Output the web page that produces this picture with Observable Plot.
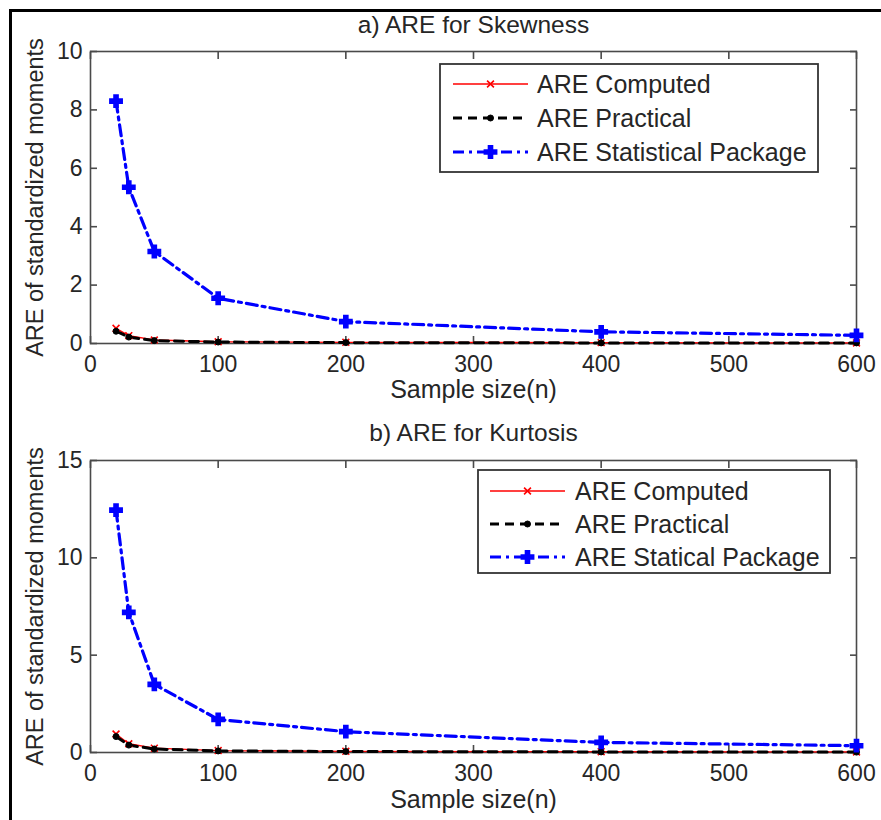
<!DOCTYPE html>
<html><head><meta charset="utf-8">
<script src="https://cdn.jsdelivr.net/npm/d3@7"></script>
<script src="https://cdn.jsdelivr.net/npm/@observablehq/plot@0.6"></script>
<style>
body{margin:0;background:#fff;font-family:"Liberation Sans",Arial,sans-serif;}
#wrap{position:relative;width:881px;height:820px;overflow:hidden;background:#fff;}
#border{position:absolute;left:9px;top:9px;width:1000px;height:1000px;border-top:3px solid #000;border-left:3px solid #000;pointer-events:none;z-index:5;}
.panel{position:absolute;left:0;}
.legend{position:absolute;z-index:3;}
</style></head><body><div id="wrap"></div>
<script>
// ---- data ----
const sampleSizes = [20, 30, 50, 100, 200, 400, 600];
const skewComputed = [0.52, 0.27, 0.12, 0.06, 0.04, 0.03, 0.02];
const skewPractical = [0.42, 0.22, 0.10, 0.05, 0.03, 0.02, 0.02];
const skewStatPackage = [8.3, 5.35, 3.15, 1.55, 0.75, 0.40, 0.28];
const kurtComputed = [0.95, 0.45, 0.22, 0.10, 0.06, 0.04, 0.03];
const kurtPractical = [0.82, 0.38, 0.18, 0.08, 0.05, 0.03, 0.02];
const kurtStatPackage = [12.45, 7.2, 3.5, 1.7, 1.07, 0.52, 0.35];
const xTicks = [0, 100, 200, 300, 400, 500, 600];
const skewYTicks = [0, 2, 4, 6, 8, 10];
const kurtYTicks = [0, 5, 10, 15];
const skewNames = ["ARE Computed", "ARE Practical", "ARE Statistical Package"];
const kurtNames = ["ARE Computed", "ARE Practical", "ARE Statical Package"];
const panelTitles = ["a) ARE for Skewness", "b) ARE for Kurtosis"];
const xLabel = "Sample size(n)";
const yLabel = "ARE of standardized moments";

// ---- styles ----
const FONT = "Liberation Sans, Arial, Helvetica, sans-serif";
const AXIS = "#4a4a4a";
const TXT = "#262626";
const seriesStyles = [
  {stroke: "#ff0000", strokeWidth: 1.3, dash: null, symbol: "times", r: 3.2, fill: "none", mStroke: "#ff0000", mWidth: 1.6},
  {stroke: "#000000", strokeWidth: 3, dash: "9,6", symbol: "circle", r: 3, fill: "#000", mStroke: "#000", mWidth: 1},
  {stroke: "#0000ff", strokeWidth: 3.2, dash: "11,5,3,5", symbol: "cross", r: 5.2, fill: "#0000ff", mStroke: "#0000ff", mWidth: 1.5}
];

const wrap = document.getElementById("wrap");

function makePanel(cfg) {
  const rows = cfg.series.flatMap((vals, s) => vals.map((v, j) => ({x: sampleSizes[j], y: v, s})));
  const marks = [
    Plot.frame({stroke: AXIS, strokeWidth: 1.6}),
    Plot.axisX({ticks: xTicks, tickSize: 0, tickPadding: 12, fontSize: 23, fill: TXT, stroke: null}),
    Plot.axisX({ticks: xTicks, anchor: "bottom", tickSize: -7, tickFormat: () => "", stroke: AXIS, strokeWidth: 1.6}),
    Plot.axisX({ticks: xTicks, anchor: "top", tickSize: -7, tickFormat: () => "", stroke: AXIS, strokeWidth: 1.6, label: null}),
    Plot.axisY({ticks: cfg.yTicks, tickSize: 0, tickPadding: 8, fontSize: 23, fill: TXT, stroke: null, label: null}),
    Plot.axisY({ticks: cfg.yTicks, anchor: "left", tickSize: -7, tickFormat: () => "", stroke: AXIS, strokeWidth: 1.6, label: null}),
    Plot.axisY({ticks: cfg.yTicks, anchor: "right", tickSize: -7, tickFormat: () => "", stroke: AXIS, strokeWidth: 1.6, label: null}),
    Plot.text([cfg.title], {text: d => d, frameAnchor: "top", lineAnchor: "middle", dy: -cfg.titleGap, fontSize: 24.5, fill: TXT}),
    Plot.text([xLabel], {text: d => d, frameAnchor: "bottom", lineAnchor: "middle", dy: cfg.xLabelGap, fontSize: 25, fill: TXT}),
    Plot.text([yLabel], {text: d => d, frameAnchor: "left", textAnchor: "middle", lineAnchor: "middle", dx: -55, rotate: -90, fontSize: 23.5, fill: TXT})
  ];
  seriesStyles.forEach((st, s) => {
    const d = rows.filter(r => r.s === s);
    marks.push(Plot.line(d, {x: "x", y: "y", stroke: st.stroke, strokeWidth: st.strokeWidth, strokeDasharray: st.dash}));
  });
  seriesStyles.forEach((st, s) => {
    const d = rows.filter(r => r.s === s);
    marks.push(Plot.dot(d, {x: "x", y: "y", symbol: st.symbol, r: st.r, fill: st.fill, stroke: st.mStroke, strokeWidth: st.mWidth}));
  });
  const chart = Plot.plot({
    width: 881, height: cfg.height,
    marginLeft: 90, marginRight: 25, marginTop: cfg.mt, marginBottom: cfg.mb,
    style: {fontFamily: FONT, fontSize: "23px", color: TXT, background: "transparent", overflow: "visible"},
    x: {domain: [0, 600], label: null},
    y: {domain: [0, cfg.yMax], label: null},
    marks
  });
  const div = document.createElement("div");
  div.className = "panel";
  div.style.top = cfg.top + "px";
  div.appendChild(chart);
  wrap.appendChild(div);
}

function makeLegend(names, box) {
  const svg = d3.create("svg")
    .attr("width", box.w).attr("height", box.h)
    .style("left", box.x + "px").style("top", box.y + "px")
    .attr("class", "legend");
  svg.append("rect").attr("x", 1).attr("y", 1).attr("width", box.w - 2).attr("height", box.h - 2)
    .attr("fill", "#fff").attr("stroke", "#333").attr("stroke-width", 1.8);
  const symMap = {times: d3.symbolTimes, circle: d3.symbolCircle, cross: d3.symbolCross};
  names.forEach((name, i) => {
    const st = seriesStyles[i];
    const cy = box.row0 + i * box.rowGap;
    svg.append("line").attr("x1", box.l0).attr("x2", box.l1).attr("y1", cy).attr("y2", cy)
      .attr("stroke", st.stroke).attr("stroke-width", st.strokeWidth)
      .attr("stroke-dasharray", st.dash);
    svg.append("path").attr("d", d3.symbol(symMap[st.symbol], Math.PI * st.r * st.r)())
      .attr("transform", `translate(${(box.l0 + box.l1) / 2},${cy})`)
      .attr("fill", st.fill).attr("stroke", st.mStroke).attr("stroke-width", st.mWidth);
    svg.append("text").attr("x", box.tx).attr("y", cy).attr("dy", "0.35em")
      .attr("font-family", FONT).attr("font-size", 25).attr("fill", TXT).text(name);
  });
  wrap.appendChild(svg.node());
}

makePanel({title: panelTitles[0], series: [skewComputed, skewPractical, skewStatPackage], yTicks: skewYTicks, yMax: 10,
  top: 0, height: 405, mt: 51, mb: 62, titleGap: 26, xLabelGap: 46});
makePanel({title: panelTitles[1], series: [kurtComputed, kurtPractical, kurtStatPackage], yTicks: kurtYTicks, yMax: 15,
  top: 405, height: 415, mt: 55, mb: 68, titleGap: 27, xLabelGap: 47});

makeLegend(skewNames, {x: 439, y: 63, w: 380, h: 110, row0: 21, rowGap: 34, l0: 14, l1: 89, tx: 98});
makeLegend(kurtNames, {x: 477, y: 469, w: 354, h: 105, row0: 22, rowGap: 33, l0: 13, l1: 88, tx: 98});

const border = document.createElement("div");
border.id = "border";
wrap.appendChild(border);
</script>
</body></html>
